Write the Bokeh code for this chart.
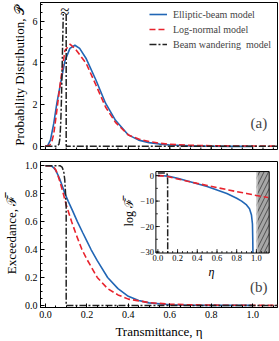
import math
from bokeh.plotting import figure
from bokeh.layouts import column
from bokeh.models import Range1d, Label, FixedTicker, PrintfTickFormatter
from bokeh.embed import file_html
from bokeh.resources import INLINE
from bokeh.core.properties import value

nan = float("nan")

# ---------------- data: panel (a) probability distribution ----------------
eta_ell_a = [0.0, 0.01, 0.024, 0.04, 0.055, 0.071, 0.094, 0.118, 0.142, 0.165, 0.197,
             0.244, 0.29, 0.338, 0.4, 0.45, 0.5, 0.55, 0.6, 0.7, 0.8, 0.9, 1.0]
pdf_ell = [0.0, 0.02, 0.3, 1.1, 2.07, 2.93, 4.1, 4.7, 4.85, 4.7, 4.2,
           3.17, 2.07, 1.25, 0.55, 0.3, 0.18, 0.11, 0.065, 0.022, 0.007, 0.002, 0.0]

eta_ln_a = [0.0, 0.02, 0.03, 0.04, 0.055, 0.071, 0.094, 0.118, 0.142, 0.197,
            0.244, 0.29, 0.338, 0.4, 0.45, 0.5, 0.55, 0.6, 0.7, 0.8, 0.9, 1.0, 1.12]
pdf_ln = [0.0, 0.05, 0.2, 0.6, 1.73, 3.0, 4.6, 4.9, 4.7, 3.97,
          2.93, 1.89, 1.15, 0.55, 0.35, 0.23, 0.15, 0.1, 0.05, 0.03, 0.02, 0.015, 0.01]

eta_bw_a = [0.0, 0.055, 0.065, 0.07, 0.074, 0.077, 0.08, 0.083, 0.086, nan, 0.1, 0.1, 1.12]
pdf_bw = [0.0, 0.0, 0.1, 0.4, 1.2, 2.2, 3.6, 5.0, 6.35, nan, 6.35, 0.0, 0.0]

# ---------------- data: panel (b) exceedance ----------------
eta_ell_b = [0.0, 0.02, 0.03, 0.04, 0.05, 0.06, 0.07, 0.08, 0.094, 0.11, 0.13, 0.154, 0.18,
             0.2, 0.22, 0.25, 0.3, 0.35, 0.4, 0.45, 0.5, 0.6, 0.7, 0.8, 0.9, 1.0]
exc_ell = [1.0, 1.0, 0.997, 0.985, 0.965, 0.935, 0.9, 0.86, 0.8, 0.745, 0.68, 0.6, 0.52,
           0.46, 0.4, 0.32, 0.2, 0.12, 0.065, 0.035, 0.018, 0.005, 0.0012, 0.0003, 0.0001, 0.0]

eta_ln_b = [0.0, 0.03, 0.04, 0.05, 0.06, 0.07, 0.086, 0.1, 0.126, 0.15, 0.176, 0.2, 0.25,
            0.3, 0.35, 0.4, 0.5, 0.6, 0.7, 0.8, 0.9, 1.0, 1.12]
exc_ln = [1.0, 0.998, 0.99, 0.97, 0.93, 0.885, 0.8, 0.72, 0.6, 0.5, 0.4, 0.33, 0.2,
          0.12, 0.075, 0.045, 0.02, 0.009, 0.004, 0.002, 0.001, 0.0005, 0.0002]

eta_bw_b = [0.0, 0.07, 0.08, 0.088, 0.093, 0.097, 0.1, 0.1, 1.12]
exc_bw = [1.0, 1.0, 0.99, 0.96, 0.9, 0.8, 0.7, 0.0, 0.0]

# ---------------- data: inset log exceedance ----------------
eta_ell_i = [0.0, 0.05, 0.1, 0.2, 0.3, 0.4, 0.5, 0.6, 0.7, 0.8, 0.85, 0.9, 0.93, 0.95,
             0.96, 0.963, 0.965]
log_ell = [0.0, -0.02, -0.2, -1.0, -2.1, -3.2, -4.3, -5.6, -7.0, -8.9, -10.0, -11.5, -13.0,
           -15.5, -19.0, -25.0, -30.4]

eta_ln_i = [0.0, 0.05, 0.1, 0.2, 0.3, 0.4, 0.5, 0.6, 0.7, 0.8, 0.9, 1.0, 1.12]
log_ln = [0.0, -0.08, -0.35, -1.3, -2.2, -3.05, -3.85, -4.7, -5.5, -6.3, -7.0, -7.8, -8.6]

eta_bw_i = [0.0, 0.085, 0.095, 0.099, 0.1]
log_bw = [1.0, 1.0, 0.5, -1.5, -30.4]

# tick labels
x_ticks = [0.0, 0.2, 0.4, 0.6, 0.8, 1.0]
pdf_ticks = [0, 2, 4, 6]
exc_ticks = [0.0, 0.2, 0.4, 0.6, 0.8, 1.0]
inset_x_ticks = [0.0, 0.2, 0.4, 0.6, 0.8, 1.0]
inset_x_labels = ["0.0", "0.2", "0.4", "0.6", "0.8", "1.0"]
inset_y_ticks = [0, -10, -20, -30]
inset_y_labels = ["0", "\u221210", "\u221220", "\u221230"]

BLUE = "#2166b5"
RED = "#e8232d"
BLACK = "#222222"
FONT = "Liberation Serif"

W = 279
LEFT = 35
RIGHT = 2
XR = (-0.024, 1.12)
YR1 = (-0.15, 6.9)
YR2 = (-0.015, 1.03)
H1 = 153
H2 = 188


def minor_list(start, stop, step):
    n = int(round((stop - start) / step))
    return [start + i * step for i in range(n + 1)]


def style(p):
    p.xgrid.visible = False
    p.ygrid.visible = False
    p.outline_line_color = "black"
    p.outline_line_alpha = 1
    p.outline_line_width = 1
    p.background_fill_color = "white"
    p.border_fill_color = "white"
    for ax in p.axis:
        ax.axis_line_color = "black"
        ax.major_tick_in = 4
        ax.major_tick_out = 0
        ax.minor_tick_in = 2
        ax.minor_tick_out = 0
        ax.major_tick_line_color = "black"
        ax.minor_tick_line_color = "black"
        ax.major_label_text_font = FONT
        ax.major_label_text_font_size = "10px"
        ax.major_label_text_color = "black"
        ax.major_label_standoff = 3
        ax.axis_label_text_font = FONT
        ax.axis_label_text_font_size = "13px"
        ax.axis_label_text_font_style = "normal"
        ax.axis_label_text_color = "black"
        ax.axis_label_standoff = 3


# ---------------- panel (a) ----------------
p1 = figure(width=W, height=H1, x_range=Range1d(*XR), y_range=Range1d(*YR1),
            output_backend="svg", toolbar_location=None,
            min_border_left=LEFT, min_border_right=RIGHT, min_border_top=2, min_border_bottom=4)
style(p1)
p1.xaxis.visible = False
p1.yaxis.ticker = FixedTicker(ticks=pdf_ticks, minor_ticks=minor_list(0.0, 6.8, 0.4))
p1.yaxis.axis_label = "Probability Distribution, \U0001D4AB"

# inward ticks along the bottom edge of panel (a)
px1 = (H1 - 6) / (YR1[1] - YR1[0])
maj_t = minor_list(0.0, 1.0, 0.2)
min_t = minor_list(0.0, 1.1, 0.05)
p1.segment(x0=min_t, y0=[YR1[0]] * len(min_t), x1=min_t, y1=[YR1[0] + 2.0 / px1] * len(min_t),
           line_color="black", line_width=1)
p1.segment(x0=maj_t, y0=[YR1[0]] * len(maj_t), x1=maj_t, y1=[YR1[0] + 4.0 / px1] * len(maj_t),
           line_color="black", line_width=1)

p1.line(eta_ell_a, pdf_ell, line_color=BLUE, line_width=1.6, legend_label="Elliptic-beam model")
p1.line(eta_ln_a, pdf_ln, line_color=RED, line_width=1.6, line_dash="6 3",
        legend_label="Log-normal model")
p1.line(eta_bw_a, pdf_bw, line_color=BLACK, line_width=1.5, line_dash="7 2 2 2",
        legend_label="Beam wandering  model")

p1.add_layout(Label(x=0.094, y=6.45, text="\u2248", text_font=FONT, text_font_size="17px",
                    text_align="center", text_baseline="middle", text_color=BLACK))
p1.add_layout(Label(x=1.03, y=1.1, text="(a)", text_font=FONT, text_font_size="15px",
                    text_align="center", text_baseline="middle"))

lg = p1.legend[0]
lg.location = "top_right"
lg.border_line_color = None
lg.background_fill_alpha = 0
lg.label_text_font = FONT
lg.label_text_font_size = "10px"
lg.glyph_width = 18
lg.glyph_height = 12
lg.label_height = 12
lg.label_standoff = 6
lg.spacing = 3
lg.padding = 3
lg.margin = 6

# ---------------- panel (b) ----------------
p2 = figure(width=W, height=H2, x_range=Range1d(*XR), y_range=Range1d(*YR2),
            output_backend="svg", toolbar_location=None,
            min_border_left=LEFT, min_border_right=RIGHT, min_border_top=8, min_border_bottom=0)
style(p2)
p2.xaxis.ticker = FixedTicker(ticks=x_ticks, minor_ticks=minor_list(0.0, 1.1, 0.05))
p2.xaxis.formatter = PrintfTickFormatter(format="%.1f")
p2.xaxis.axis_label = "Transmittance, \u03b7"
p2.yaxis.ticker = FixedTicker(ticks=exc_ticks, minor_ticks=minor_list(0.0, 1.0, 0.05))
p2.yaxis.formatter = PrintfTickFormatter(format="%.1f")
p2.yaxis.axis_label = "Exceedance, \u2131\u0305"

p2.line(eta_ell_b, exc_ell, line_color=BLUE, line_width=1.6)
p2.line(eta_ln_b, exc_ln, line_color=RED, line_width=1.6, line_dash="6 3")
p2.line(eta_bw_b, exc_bw, line_color=BLACK, line_width=1.5, line_dash="7 2 2 2")
p2.add_layout(Label(x=1.03, y=0.13, text="(b)", text_font=FONT, text_font_size="15px",
                    text_align="center", text_baseline="middle"))

# ---------------- inset (sub-coordinates inside panel b) ----------------
xs_src = Range1d(-0.02, 1.13)
ys_src = Range1d(-30.4, 1.6)
x_tgt = Range1d(0.533, 1.08)
y_tgt = Range1d(0.375, 0.958)
sub = p2.subplot(x_source=xs_src, y_source=ys_src, x_target=x_tgt, y_target=y_tgt)

sub.quad(left=[xs_src.start], right=[xs_src.end], bottom=[ys_src.start], top=[ys_src.end],
         fill_color="white", line_color=None)
sub.quad(left=[1.0], right=[xs_src.end], bottom=[ys_src.start], top=[ys_src.end],
         fill_color="#a6a6a6", line_color=None, hatch_pattern="/", hatch_color="#3a3a3a",
         hatch_scale=9, hatch_weight=0.8)
sub.quad(left=[1.0], right=[1.012], bottom=[ys_src.start], top=[ys_src.end],
         fill_color="#d8d8d8", line_color=None)

sub.line(eta_ell_i, log_ell, line_color=BLUE, line_width=1.6)
sub.line(eta_ln_i, log_ln, line_color=RED, line_width=1.6, line_dash="6 3")
sub.line(eta_bw_i, log_bw, line_color=BLACK, line_width=1.5, line_dash="7 2 2 2")

# inset frame
sub.quad(left=[xs_src.start], right=[xs_src.end], bottom=[ys_src.start], top=[ys_src.end],
         fill_color=None, line_color="black", line_width=1)

# inset ticks (lengths in pixels converted to inset units)
frame_w_px = W - LEFT - RIGHT
frame_h_px = 150.0
px_x = frame_w_px / (XR[1] - XR[0]) * (x_tgt.end - x_tgt.start) / (xs_src.end - xs_src.start)
px_y = frame_h_px / (YR2[1] - YR2[0]) * (y_tgt.end - y_tgt.start) / (ys_src.end - ys_src.start)
maj_x = minor_list(0.0, 1.0, 0.2)
min_x = minor_list(0.0, 1.1, 0.05)
sub.segment(x0=min_x, y0=[ys_src.start] * len(min_x), x1=min_x,
            y1=[ys_src.start + 2.0 / px_y] * len(min_x), line_color="black", line_width=0.8)
sub.segment(x0=maj_x, y0=[ys_src.start] * len(maj_x), x1=maj_x,
            y1=[ys_src.start + 4.0 / px_y] * len(maj_x), line_color="black", line_width=0.8)
maj_y = inset_y_ticks
min_y = minor_list(-30.0, 0.0, 5.0)
sub.segment(x0=[xs_src.start] * len(min_y), y0=min_y, x1=[xs_src.start + 2.0 / px_x] * len(min_y),
            y1=min_y, line_color="black", line_width=0.8)
sub.segment(x0=[xs_src.start] * len(maj_y), y0=maj_y, x1=[xs_src.start + 4.0 / px_x] * len(maj_y),
            y1=maj_y, line_color="black", line_width=0.8)

sub.text(x=inset_x_ticks, y=[ys_src.start] * len(inset_x_ticks), text=inset_x_labels,
         text_font=value(FONT), text_font_size="8.5px", text_align="center",
         text_baseline="top", y_offset=2, text_color="black")
sub.text(x=[xs_src.start] * len(inset_y_ticks), y=inset_y_ticks, text=inset_y_labels,
         text_font=value(FONT), text_font_size="8.5px", text_align="right",
         text_baseline="middle", x_offset=-2, text_color="black")
sub.text(x=[0.545], y=[ys_src.start], text=["\u03b7"], text_font=value(FONT),
         text_font_size="12px", text_font_style="italic", text_align="center",
         text_baseline="top", y_offset=12, text_color="black")
sub.text(x=[xs_src.start], y=[(ys_src.start + ys_src.end) / 2], text=["log \u2131\u0305"],
         text_font=value(FONT), text_font_size="12px", text_align="center",
         text_baseline="middle", x_offset=-27, angle=math.pi / 2, text_color="black")

layout = column(p1, p2, spacing=0)
open("out.html", "w").write(file_html(layout, INLINE))
